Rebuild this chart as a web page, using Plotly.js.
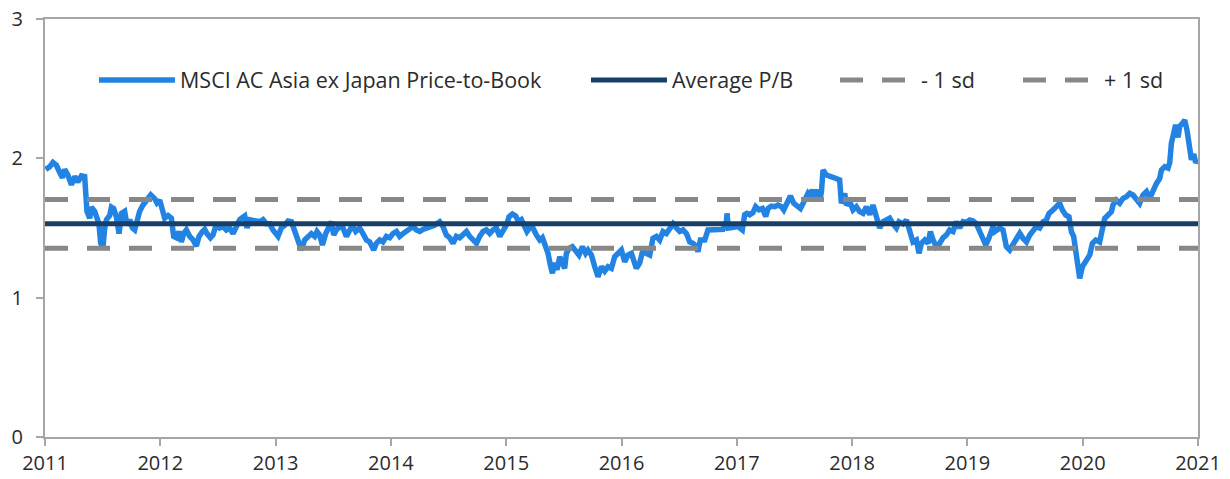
<!DOCTYPE html>
<html><head><meta charset="utf-8">
<script src="https://cdn.plot.ly/plotly-3.0.1.min.js"></script>
<style>html,body{margin:0;padding:0;background:#fff}#chart{width:1230px;height:479px}</style>
</head><body><div id="chart"></div>
<script>
// Dates as decimal years
const years = [
2011.006,2011.041,2011.069,2011.099,2011.127,2011.151,2011.171,2011.199,2011.229,2011.258,
2011.286,2011.316,2011.344,2011.353,2011.364,2011.388,2011.402,2011.431,2011.451,2011.468,
2011.483,2011.503,2011.518,2011.533,2011.561,2011.576,2011.596,2011.619,2011.642,2011.663,
2011.691,2011.711,2011.735,2011.758,2011.778,2011.798,2011.821,2011.850,2011.879,2011.917,
2011.951,2011.971,2011.995,2012.018,2012.038,2012.067,2012.096,2012.116,2012.140,2012.162,
2012.183,2012.203,2012.226,2012.255,2012.284,2012.313,2012.336,2012.365,2012.385,2012.405,
2012.435,2012.457,2012.487,2012.515,2012.544,2012.573,2012.602,2012.631,2012.660,2012.689,
2012.732,2012.752,2012.775,2012.819,2012.862,2012.891,2012.920,2012.949,2012.977,2013.021,
2013.050,2013.079,2013.108,2013.137,2013.166,2013.194,2013.224,2013.252,2013.281,2013.310,
2013.339,2013.359,2013.382,2013.406,2013.435,2013.461,2013.484,2013.504,2013.527,2013.556,
2013.585,2013.614,2013.643,2013.666,2013.695,2013.729,2013.758,2013.788,2013.816,2013.851,
2013.874,2013.903,2013.931,2013.961,2013.990,2014.018,2014.048,2014.076,2014.105,2014.134,
2014.163,2014.192,2014.221,2014.250,2014.278,2014.308,
2014.337,2014.380,2014.423,2014.452,2014.481,2014.510,2014.539,2014.568,2014.597,2014.625,
2014.655,2014.683,2014.712,2014.742,2014.770,2014.799,2014.828,2014.857,2014.886,2014.915,
2014.944,2014.972,2015.007,2015.024,2015.054,2015.082,2015.108,2015.132,2015.160,2015.180,
2015.210,2015.232,2015.262,2015.291,2015.314,2015.343,2015.363,2015.383,2015.401,2015.421,
2015.441,2015.464,2015.487,2015.507,2015.522,2015.545,2015.574,2015.603,2015.631,2015.661,
2015.689,2015.709,2015.739,2015.768,2015.796,2015.826,2015.854,2015.883,2015.912,2015.941,
2015.999,2016.028,2016.056,2016.086,2016.129,2016.158,2016.186,2016.216,2016.245,2016.273,
2016.303,2016.331,2016.360,2016.389,2016.418,2016.447,2016.476,2016.505,2016.533,2016.563,
2016.592,2016.620,2016.650,2016.663,2016.684,2016.722,2016.750,2016.780,2016.823,2016.880,
2016.910,2016.915,2016.927,2016.967,2017.010,2017.048,2017.068,2017.088,2017.112,2017.140,
2017.164,2017.193,2017.222,2017.251,2017.271,2017.300,2017.329,2017.357,2017.387,2017.407,
2017.430,2017.465,2017.494,2017.517,2017.552,2017.589,2017.618,
2017.632,2017.656,2017.676,2017.704,2017.719,2017.734,2017.748,2017.777,2017.834,2017.892,
2017.907,2017.936,2017.950,2017.979,2018.008,2018.037,2018.066,2018.095,2018.124,2018.153,
2018.181,2018.211,2018.239,2018.268,2018.298,2018.326,2018.355,2018.384,2018.407,2018.441,
2018.471,2018.500,2018.528,2018.558,2018.580,2018.601,2018.630,2018.659,2018.679,2018.702,
2018.731,2018.760,2018.788,2018.818,2018.846,2018.875,2018.905,2018.933,2018.962,2018.991,
2019.020,2019.049,2019.078,2019.107,2019.135,2019.159,2019.188,2019.222,
2019.237,2019.280,2019.309,2019.338,2019.367,2019.396,2019.425,2019.454,2019.482,2019.512,
2019.541,2019.569,2019.598,2019.627,2019.656,2019.685,2019.708,2019.742,2019.772,2019.800,
2019.824,2019.853,2019.881,2019.902,2019.922,2019.939,2019.959,2019.974,2019.997,2020.017,
2020.037,2020.061,2020.084,2020.113,2020.147,2020.171,2020.191,2020.220,2020.249,2020.263,
2020.292,2020.321,2020.350,2020.379,2020.408,2020.436,2020.466,2020.494,2020.523,2020.553,
2020.581,2020.610,2020.640,2020.668,2020.683,2020.711,2020.740,2020.755,2020.769,2020.789,
2020.806,2020.827,2020.841,2020.865,2020.885,2020.905,2020.928,2020.943,2020.963,2020.980,
2021.000
];
// MSCI AC Asia ex Japan price-to-book
const priceToBook = [
1.92,1.94,1.97,1.95,1.90,1.86,1.92,1.88,1.81,1.87,
1.83,1.875,1.87,1.75,1.62,1.57,1.65,1.62,1.56,1.53,
1.39,1.366,1.50,1.56,1.59,1.65,1.64,1.58,1.46,1.605,
1.62,1.52,1.56,1.50,1.486,1.56,1.62,1.665,1.70,1.737,
1.71,1.68,1.70,1.62,1.57,1.59,1.57,1.44,1.43,1.475,
1.40,1.46,1.486,1.44,1.414,1.37,1.44,1.475,1.49,1.46,
1.43,1.45,1.53,1.50,1.51,1.486,1.50,1.46,1.51,1.56,
1.586,1.50,1.56,1.55,1.545,1.56,1.53,1.53,1.486,1.44,
1.50,1.52,1.55,1.545,1.486,1.414,1.342,1.414,1.44,1.46,
1.44,1.475,1.45,1.378,1.46,1.52,1.545,1.45,1.486,1.51,
1.50,1.44,1.486,1.52,1.475,1.50,1.46,1.414,1.40,1.342,
1.39,1.414,1.40,1.44,1.43,1.46,1.475,1.44,1.46,1.475,
1.50,1.51,1.486,1.475,1.49,1.50,
1.50,1.52,1.545,1.51,1.45,1.43,1.39,1.44,1.43,1.45,
1.475,1.44,1.414,1.39,1.44,1.475,1.486,1.46,1.486,1.50,
1.44,1.486,1.53,1.58,1.60,1.586,1.545,1.56,1.51,1.475,
1.51,1.50,1.45,1.414,1.43,1.366,1.318,1.234,1.175,1.25,
1.20,1.294,1.25,1.21,1.318,1.354,1.366,1.342,1.306,1.366,
1.318,1.342,1.306,1.222,1.15,1.222,1.19,1.222,1.21,1.294,
1.342,1.258,1.306,1.318,1.21,1.25,1.342,1.318,1.306,1.426,
1.44,1.414,1.475,1.46,1.50,1.53,1.50,1.475,1.486,1.46,
1.40,1.39,1.366,1.33,1.414,1.414,1.486,1.486,1.486,1.49,
1.545,1.605,1.50,1.505,1.51,1.486,1.595,1.605,1.595,1.61,
1.653,1.63,1.64,1.583,1.64,1.657,1.653,1.665,1.653,1.63,
1.665,1.73,1.677,1.665,1.64,1.70,1.75,
1.737,1.773,1.725,1.773,1.69,1.76,1.916,1.88,1.864,1.845,
1.677,1.749,1.665,1.69,1.63,1.653,1.617,1.605,1.653,1.595,
1.665,1.583,1.50,1.545,1.557,1.57,1.53,1.50,1.545,1.53,
1.557,1.486,1.40,1.414,1.318,1.39,1.414,1.39,1.475,1.414,
1.366,1.39,1.43,1.45,1.486,1.475,1.545,1.50,1.545,1.54,
1.557,1.55,1.53,1.475,1.414,1.378,1.43,1.51,
1.474,1.50,1.486,1.366,1.342,1.378,1.414,1.462,1.426,1.40,
1.45,1.474,1.51,1.50,1.545,1.557,1.605,1.629,1.653,1.677,
1.629,1.593,1.581,1.474,1.438,1.354,1.222,1.139,1.222,1.246,
1.282,1.306,1.39,1.414,1.40,1.51,1.569,1.593,1.617,1.665,
1.70,1.677,1.713,1.725,1.749,1.737,1.713,1.677,1.737,1.761,
1.713,1.773,1.82,1.856,1.916,1.94,1.93,1.97,2.108,2.18,
2.24,2.15,2.23,2.25,2.275,2.20,2.084,1.99,2.03,1.97,
1.99
];
const averagePB = 1.53;
const minusOneSd = 1.355;
const plusOneSd = 1.705;
const xRange = [2011, 2021];
const xTickVals = [2011,2012,2013,2014,2015,2016,2017,2018,2019,2020,2021];
const xTickText = ['2011','2012','2013','2014','2015','2016','2017','2018','2019','2020','2021'];
const yTickVals = [0,1,2,3];
const seriesNames = ['MSCI AC Asia ex Japan Price-to-Book','Average P/B','- 1 sd','+ 1 sd'];

const FONT = '"Open Sans", "Noto Sans", sans-serif';
const TXT = '#2b2b2b';
const AX = '#a6a6a6';
const dashSd = '23px,19px';

const traces = [
  {x: years, y: priceToBook, type: 'scatter', mode: 'lines', name: seriesNames[0],
   line: {color: '#2383e2', width: 5.5}, legend: 'legend'},
  {x: xRange, y: [averagePB, averagePB], type: 'scatter', mode: 'lines', name: seriesNames[1],
   line: {color: '#173f68', width: 5}, legend: 'legend2'},
  {x: xRange, y: [minusOneSd, minusOneSd], type: 'scatter', mode: 'lines', name: seriesNames[2],
   line: {color: '#878787', width: 5, dash: dashSd}, legend: 'legend3'},
  {x: xRange, y: [plusOneSd, plusOneSd], type: 'scatter', mode: 'lines', name: seriesNames[3],
   line: {color: '#878787', width: 5, dash: dashSd}, legend: 'legend4'}
];

function leg(px) {
  return {x: (px - 45) / 1153, y: (437 - 80) / 418, xanchor: 'left', yanchor: 'middle',
    orientation: 'h', bgcolor: 'rgba(0,0,0,0)', borderwidth: 0, itemwidth: 76,
    font: {family: FONT, size: 21.5, color: TXT}, itemclick: false, itemdoubleclick: false};
}

const layout = {
  width: 1230, height: 479,
  margin: {l: 45, r: 32, t: 19, b: 42, pad: 0},
  paper_bgcolor: '#ffffff', plot_bgcolor: '#ffffff',
  font: {family: FONT, size: 20, color: TXT},
  showlegend: true,
  legend: leg(94), legend2: leg(586), legend3: leg(835), legend4: leg(1018),
  xaxis: {range: xRange, tickmode: 'array', tickvals: xTickVals, ticktext: xTickText,
    showgrid: false, zeroline: false, showline: true, linecolor: AX, linewidth: 2, mirror: true,
    ticks: 'outside', ticklen: 7, tickwidth: 2, tickcolor: AX,
    tickfont: {family: FONT, size: 20, color: TXT}},
  yaxis: {range: [0, 3], tickmode: 'array', tickvals: yTickVals, ticktext: yTickVals.map(String),
    showgrid: false, zeroline: false, showline: true, linecolor: AX, linewidth: 2, mirror: true,
    ticks: 'outside', ticklen: 7, tickwidth: 2, tickcolor: AX,
    tickfont: {family: FONT, size: 20, color: TXT}, ticklabelstandoff: 9}
};

Plotly.newPlot('chart', traces, layout, {displayModeBar: false, staticPlot: true});
</script>
</body></html>
